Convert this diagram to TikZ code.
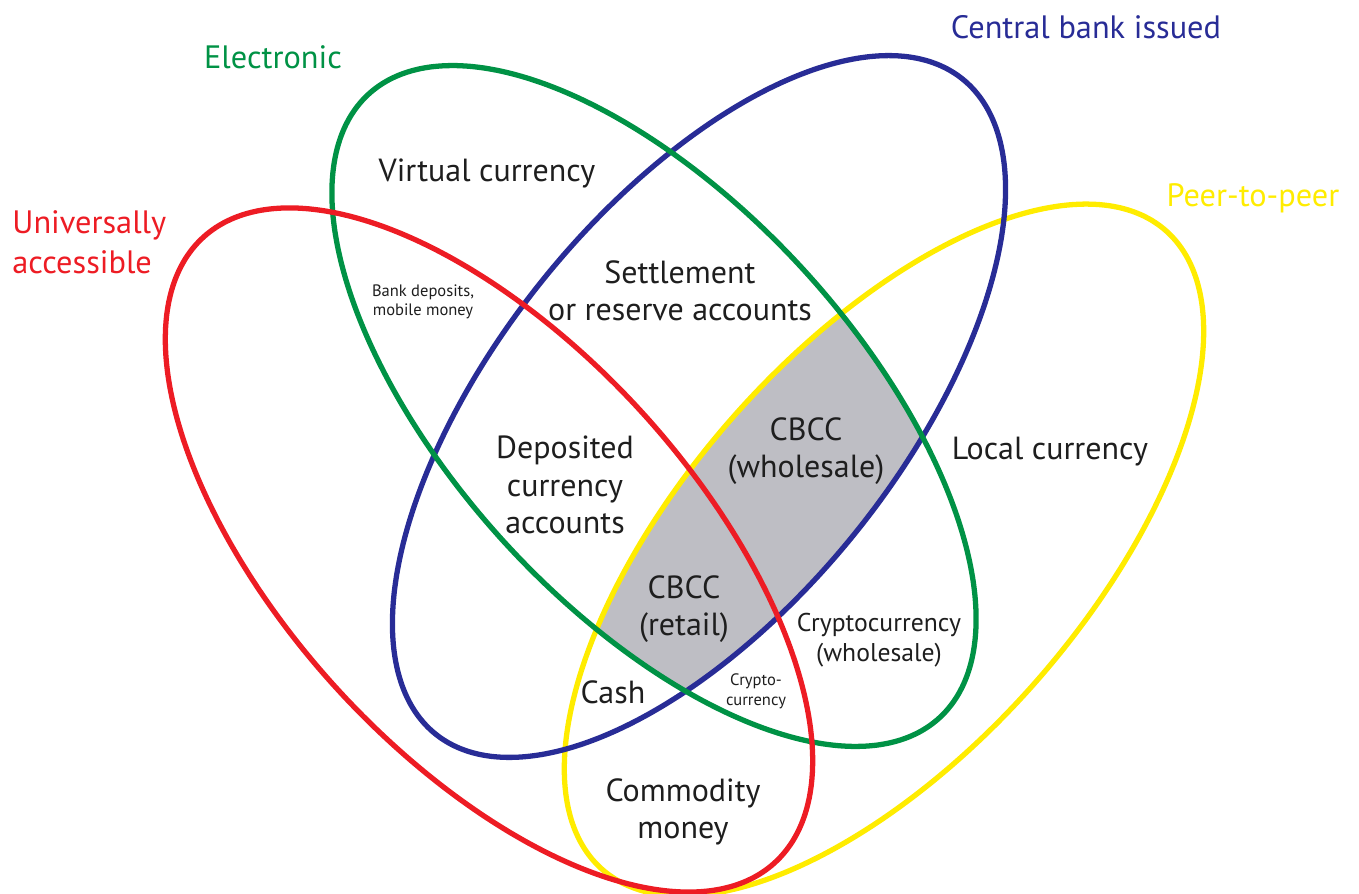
\documentclass[tikz,border=0pt]{standalone}
\usepackage{fontspec}
\setmainfont{PT Sans}
\definecolor{setred}{RGB}{237,28,36}
\definecolor{setgreen}{RGB}{0,146,69}
\definecolor{setblue}{RGB}{40,44,150}
\definecolor{setyellow}{RGB}{255,236,0}
\definecolor{cbccgray}{RGB}{190,190,196}
\definecolor{txt}{RGB}{30,30,30}

% outlines of the four sets: centre + a cos t + b sin t (pixel units)
\newcommand{\redloop}{plot[smooth cycle,domain=0:357,samples=120,variable=\t]
  ({489-290*cos(\t)+143.8*sin(\t)},{550-308.6*cos(\t)-147.6*sin(\t)})}
\newcommand{\greenloop}{plot[smooth cycle,domain=0:357,samples=120,variable=\t]
  ({654-291.3*cos(\t)+137.5*sin(\t)},{406-306*cos(\t)-149.2*sin(\t)})}
\newcommand{\blueloop}{plot[smooth cycle,domain=0:357,samples=120,variable=\t]
  ({699+292.7*cos(\t)+91.2*sin(\t)},{406.5-289.3*cos(\t)+198.6*sin(\t)})}
\newcommand{\yellowloop}{plot[smooth cycle,domain=0:357,samples=120,variable=\t]
  ({884+304*cos(\t)+99*sin(\t)},{550-291*cos(\t)+187*sin(\t)})}

\begin{document}
\begin{tikzpicture}[x=0.01cm,y=-0.01cm,
    ring/.style={line width=1.5pt},
    lbl/.style={text=txt,align=center,font=\fontsize{9.1}{10.6}\selectfont},
    mid/.style={text=txt,align=center,font=\fontsize{7.3}{8.6}\selectfont},
    tiny/.style={text=txt,align=center,font=\fontsize{4.7}{5.6}\selectfont},
    head/.style={align=left,font=\fontsize{9.2}{11.3}\selectfont}]
    \useasboundingbox (0,0) rectangle (1359,894);

    % CBCC region: electronic, central bank issued and peer-to-peer
    \begin{scope}
        \clip \greenloop;
        \clip \blueloop;
        \fill[cbccgray] \yellowloop;
    \end{scope}

    \draw[ring, setyellow] \yellowloop;
    \draw[ring, setblue] \blueloop;
    \draw[ring, setgreen] \greenloop;
    \draw[ring, setred] \redloop;

    \node[head, text=setgreen] (electronic) at (273,57) {Electronic};
    \node[head, text=setblue] (central) at (1086,27) {Central bank issued};
    \node[head, text=setred, anchor=west] (universal) at (0,242) {Universally\\accessible};
    \node[head, text=setyellow] (p2p) at (1253,198) {Peer-to-peer};

    \node[lbl] (virtual) at (487,173) {Virtual currency};
    \node[tiny] (bankdep) at (423,302) {Bank deposits,\\mobile money};
    \node[lbl] (settle) at (680,291) {Settlement\\or reserve accounts};
    \node[lbl] (deposited) at (565,485) {Deposited\\currency\\accounts};
    \node[lbl] (cbccw) at (806,451) {CBCC\\(wholesale)};
    \node[lbl] (local) at (1050,452) {Local currency};
    \node[lbl] (cbccr) at (684,609) {CBCC\\(retail)};
    \node[mid] (cryptow) at (879,640) {Cryptocurrency\\(wholesale)};
    \node[lbl] (cash) at (613,692) {Cash};
    \node[tiny] (crypto) at (756,691) {Crypto-\\currency};
    \node[lbl] (commodity) at (683,812) {Commodity\\money};
\end{tikzpicture}
\end{document}
